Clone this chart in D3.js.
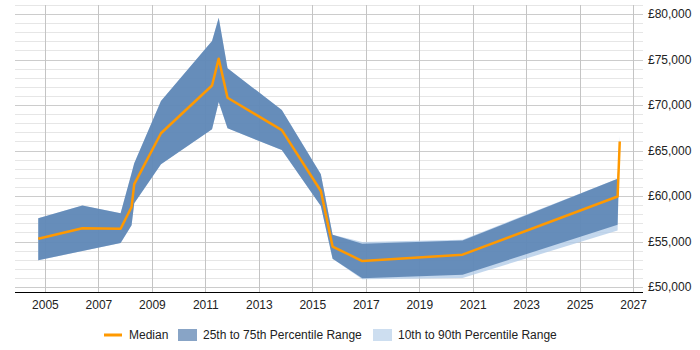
<!DOCTYPE html>
<html>
<head>
<meta charset="utf-8">
<script src="https://cdn.jsdelivr.net/npm/d3@7"></script>
<style>
  html, body { margin: 0; padding: 0; background: #fff; }
  svg { display: block; font-family: "Liberation Sans", Arial, sans-serif; }
</style>
</head>
<body>
<svg id="chart" width="700" height="350"></svg>
<script>
// ---- data ----
const years  = [2004.75, 2006.4, 2007.83, 2008.24, 2008.34, 2009.34, 2011.25, 2011.5, 2011.83, 2013.86, 2015.32, 2015.76, 2016.87, 2020.62, 2026.42, 2026.5];
const median = [55300, 56450, 56400, 58800, 61300, 66900, 72150, 75100, 70800, 67250, 60550, 54450, 52850, 53550, 59950, 66000];
const p25    = [52950, 53950, 54850, 56800, 59200, 63500, 67350, 70350, 67450, 65050, 58900, 53100, 50950, 51350, 56850, 65900];
const p75    = [57550, 58950, 58100, 62500, 63600, 70450, 77050, 79600, 74050, 69450, 62400, 55750, 54750, 55100, 61900, 66100];
const p10    = [52950, 53950, 54850, 56800, 59200, 63500, 67350, 70350, 67450, 65050, 58900, 53100, 50850, 51000, 56200, 65500];
const p90    = [57550, 58950, 58100, 62500, 63600, 70450, 77050, 79600, 74050, 69450, 62400, 55750, 54950, 55200, 61900, 66600];
const xTicks = [2005, 2007, 2009, 2011, 2013, 2015, 2017, 2019, 2021, 2023, 2025, 2027];
const yTicks = [50000, 55000, 60000, 65000, 70000, 75000, 80000];
const legendLabels = ["Median", "25th to 75th Percentile Range", "10th to 90th Percentile Range"];

// ---- layout ----
const svg = d3.select("#chart");
const x = d3.scaleLinear().domain([2003.88, 2027.37]).range([15, 643]);
const y = d3.scaleLinear().domain([49450, 81000]).range([292, 5]);

const rows = years.map((yr, i) => ({yr, med: median[i], p25: p25[i], p75: p75[i], p10: p10[i], p90: p90[i]}));

// grid (under the bands)
const g = svg.append("g");
const minor = d3.range(50000, 81001, 1000).filter(v => v % 5000 !== 0);
g.selectAll("line.minor").data(minor).join("line")
  .attr("x1", 15).attr("x2", 643)
  .attr("y1", d => Math.round(y(d)) + 0.5).attr("y2", d => Math.round(y(d)) + 0.5)
  .attr("stroke", "#e6e6e6").attr("stroke-width", 1);
g.selectAll("line.major").data(yTicks).join("line")
  .attr("x1", 15).attr("x2", 643)
  .attr("y1", d => Math.round(y(d)) + 0.5).attr("y2", d => Math.round(y(d)) + 0.5)
  .attr("stroke", "#cccccc").attr("stroke-width", 1);
g.selectAll("line.vert").data(xTicks).join("line")
  .attr("x1", d => Math.round(x(d)) + 0.5).attr("x2", d => Math.round(x(d)) + 0.5)
  .attr("y1", y(81000)).attr("y2", 292)
  .attr("stroke", "#c4c4c4").attr("stroke-width", 1);

// bands
const area = (lo, hi) => d3.area().x(d => x(d.yr)).y0(d => y(d[lo])).y1(d => y(d[hi]));
svg.append("path").datum(rows).attr("d", area("p10", "p90"))
  .attr("fill", "#b4cde8").attr("fill-opacity", 0.8);
svg.append("path").datum(rows).attr("d", area("p25", "p75"))
  .attr("fill", "#527daf").attr("fill-opacity", 0.82);

// median line
svg.append("path").datum(rows)
  .attr("d", d3.line().x(d => x(d.yr)).y(d => y(d.med)))
  .attr("fill", "none").attr("stroke", "#ff9900").attr("stroke-width", 2.5)
  .attr("stroke-linejoin", "round");

// x axis
const xAxis = d3.axisBottom(x).tickValues(xTicks).tickFormat(d3.format("d")).tickSize(0).tickPadding(8);
const xg = svg.append("g").attr("transform", "translate(0,292)").call(xAxis);
xg.select(".domain").attr("stroke", "#000").attr("d", "M15,0.5H643");
xg.selectAll("text").attr("font-size", 12).attr("fill", "#222")
  .attr("font-family", "'Liberation Sans', Arial, sans-serif");

// y axis (right)
const yAxis = d3.axisRight(y).tickValues(yTicks).tickFormat(d => "£" + d3.format(",")(d)).tickSize(0).tickPadding(5);
const yg = svg.append("g").attr("transform", "translate(643,0)").call(yAxis);
yg.select(".domain").remove();
yg.selectAll("text").attr("font-size", 12).attr("fill", "#222")
  .attr("font-family", "'Liberation Sans', Arial, sans-serif");

// legend
const lg = svg.append("g").attr("font-size", 12).attr("fill", "#222");
lg.append("line").attr("x1", 104).attr("x2", 122).attr("y1", 335).attr("y2", 335)
  .attr("stroke", "#ff9900").attr("stroke-width", 3);
lg.append("text").attr("x", 129).attr("y", 339).text(legendLabels[0]);
lg.append("rect").attr("x", 178).attr("y", 329).attr("width", 19).attr("height", 12)
  .attr("fill", "#88a4c6");
lg.append("text").attr("x", 203).attr("y", 339).text(legendLabels[1]);
lg.append("rect").attr("x", 373).attr("y", 329).attr("width", 19).attr("height", 12)
  .attr("fill", "#cddef0");
lg.append("text").attr("x", 398).attr("y", 339).text(legendLabels[2]);
</script>
</body>
</html>
